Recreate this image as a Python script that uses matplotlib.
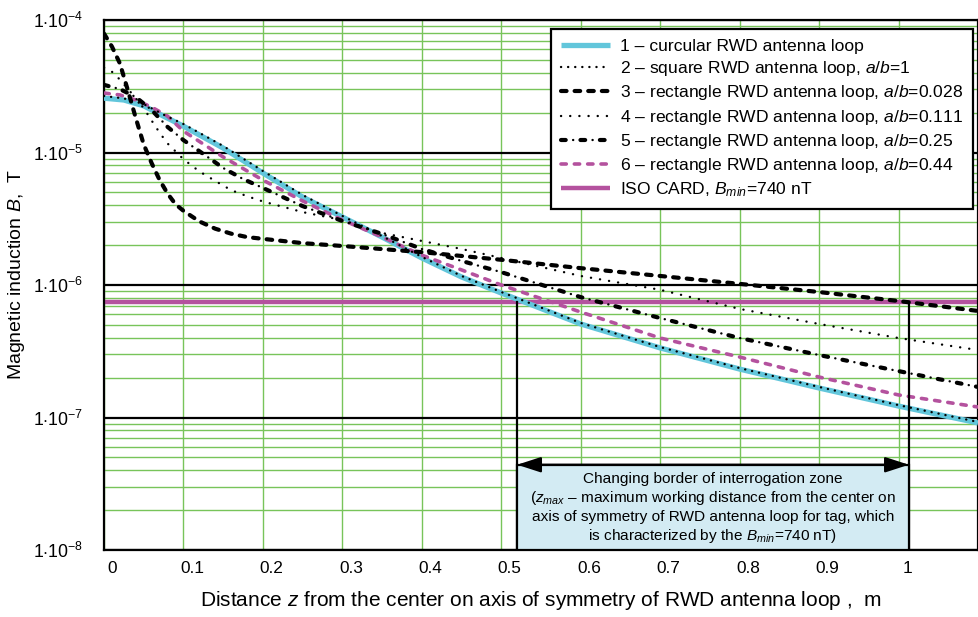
import numpy as np
import matplotlib
matplotlib.use('Agg')
import matplotlib.pyplot as plt
from matplotlib.transforms import ScaledTranslation
from matplotlib.ticker import FixedLocator, FixedFormatter, NullFormatter, LogLocator
from matplotlib.patches import Rectangle

plt.rcParams['font.family'] = ['Liberation Sans', 'DejaVu Sans']
plt.rcParams['mathtext.fontset'] = 'custom'
plt.rcParams['mathtext.rm'] = 'Liberation Sans'
plt.rcParams['mathtext.it'] = 'Liberation Sans:italic'
plt.rcParams['mathtext.bf'] = 'Liberation Sans:bold'
plt.rcParams['lines.scale_dashes'] = False

# ---------------- data ----------------
# 1 - circular loop
z1 = [0, 0.025, 0.05, 0.075, 0.1, 0.15, 0.2, 0.25, 0.3, 0.35, 0.4, 0.45, 0.5, 0.6, 0.7, 0.8, 0.9, 1.0, 1.1]
b1 = [2.57e-5, 2.49e-5, 2.25e-5, 1.88e-5, 1.58e-5, 1.08e-5, 7.0e-6, 4.61e-6, 3.26e-6, 2.30e-6,
      1.60e-6, 1.15e-6, 8.7e-7, 5.08e-7, 3.35e-7, 2.32e-7, 1.67e-7, 1.22e-7, 9.1e-8]
# 2 - square loop a/b=1
z2 = [0, 0.025, 0.05, 0.075, 0.1, 0.15, 0.2, 0.25, 0.3, 0.35, 0.4, 0.45, 0.5, 0.6, 0.7, 0.8, 0.9, 1.0, 1.1]
b2 = [2.67e-5, 2.56e-5, 2.32e-5, 1.93e-5, 1.64e-5, 1.12e-5, 7.25e-6, 4.78e-6, 3.32e-6, 2.34e-6,
      1.63e-6, 1.17e-6, 8.85e-7, 5.17e-7, 3.40e-7, 2.36e-7, 1.70e-7, 1.24e-7, 9.25e-8]
# 3 - rectangle a/b=0.028
z3 = [0, 0.01, 0.02, 0.03, 0.04, 0.05, 0.06, 0.07, 0.08, 0.09, 0.1, 0.12, 0.14, 0.16, 0.18, 0.2,
      0.25, 0.3, 0.4, 0.5, 0.6, 0.7, 0.8, 0.9, 1.0, 1.1]
b3 = [7.9e-5, 6.3e-5, 4.7e-5, 2.95e-5, 1.82e-5, 1.15e-5, 8.3e-6, 6.2e-6, 4.9e-6, 4.07e-6, 3.63e-6,
      3.02e-6, 2.66e-6, 2.44e-6, 2.30e-6, 2.23e-6, 2.07e-6, 1.97e-6, 1.77e-6, 1.55e-6, 1.34e-6,
      1.17e-6, 1.02e-6, 8.85e-7, 7.57e-7, 6.37e-7]
# 4 - rectangle a/b=0.111
z4 = [0, 0.01, 0.02, 0.03, 0.04, 0.05, 0.06, 0.07, 0.08, 0.09, 0.1, 0.12, 0.14, 0.16, 0.18, 0.2,
      0.25, 0.3, 0.35, 0.4, 0.45, 0.5, 0.6, 0.7, 0.8, 0.9, 1.0, 1.1]
b4 = [4.37e-5, 4.07e-5, 3.55e-5, 3.02e-5, 2.57e-5, 2.16e-5, 1.74e-5, 1.41e-5, 1.17e-5, 1.02e-5,
      8.9e-6, 7.2e-6, 6.1e-6, 5.2e-6, 4.68e-6, 4.27e-6, 3.55e-6, 3.09e-6, 2.47e-6, 2.15e-6,
      1.87e-6, 1.60e-6, 1.17e-6, 9.2e-7, 6.6e-7, 5.08e-7, 3.98e-7, 3.23e-7]
# 5 - rectangle a/b=0.25
z5 = [0, 0.02, 0.04, 0.06, 0.08, 0.1, 0.125, 0.15, 0.175, 0.2, 0.25, 0.3, 0.35, 0.4, 0.45, 0.5,
      0.6, 0.7, 0.8, 0.9, 1.0, 1.1]
b5 = [3.24e-5, 3.01e-5, 2.62e-5, 2.09e-5, 1.56e-5, 1.24e-5, 9.75e-6, 7.64e-6, 6.31e-6, 5.40e-6,
      3.94e-6, 3.04e-6, 2.43e-6, 1.87e-6, 1.52e-6, 1.25e-6, 8.1e-7, 5.63e-7, 3.98e-7, 2.96e-7,
      2.24e-7, 1.70e-7]
# 6 - rectangle a/b=0.44
z6 = [0, 0.02, 0.04, 0.06, 0.08, 0.1, 0.15, 0.2, 0.25, 0.3, 0.35, 0.4, 0.45, 0.5, 0.6, 0.7, 0.8,
      0.9, 1.0, 1.1]
b6 = [2.81e-5, 2.72e-5, 2.49e-5, 2.20e-5, 1.88e-5, 1.45e-5, 9.25e-6, 6.19e-6, 4.31e-6, 3.10e-6,
      2.30e-6, 1.68e-6, 1.30e-6, 1.0e-6, 6.25e-7, 3.98e-7, 2.86e-7, 2.02e-7, 1.48e-7, 1.20e-7]

b_min = 7.4e-7
z_max = [0.52, 1.013]
box_top = 4.4e-8

labels = ['1 – curcular RWD antenna loop',
          '2 – square RWD antenna loop, $a/b$=1',
          '3 – rectangle RWD antenna loop, $a/b$=0.028',
          '4 – rectangle RWD antenna loop, $a/b$=0.111',
          '5 – rectangle RWD antenna loop, $a/b$=0.25',
          '6 – rectangle RWD antenna loop, $a/b$=0.44',
          'ISO CARD, $B_{min}$=740 nT']

xtick_vals = [0, 0.1, 0.2, 0.3, 0.4, 0.5, 0.6, 0.7, 0.8, 0.9, 1.0]
xtick_labels = ['0', '0.1', '0.2', '0.3', '0.4', '0.5', '0.6', '0.7', '0.8', '0.9', '1']
ytick_vals = [1e-8, 1e-7, 1e-6, 1e-5, 1e-4]
ytick_labels = [r'$1{\cdot}10^{-8}$', r'$1{\cdot}10^{-7}$', r'$1{\cdot}10^{-6}$',
                r'$1{\cdot}10^{-5}$', r'$1{\cdot}10^{-4}$']

note = ("Changing border of interrogation zone\n"
        "($z_{max}$ – maximum working distance from the center on\n"
        "axis of symmetry of RWD antenna loop for tag, which\n"
        "is characterized by the $B_{min}$=740 nT)")

# ---------------- styling ----------------
CYAN = '#62c6db'
PURPLE = '#b4529e'
GREEN = '#78c45a'
BOXC = '#d3ebf3'

fig = plt.figure(figsize=(9.79, 6.17), dpi=100)
ax = fig.add_axes([104 / 979, 67 / 617, 874 / 979, 530 / 617])
ax.set_yscale('log')
ax.set_xlim(0, 1.1)
ax.set_ylim(1e-8, 1e-4)

ax.xaxis.set_major_locator(FixedLocator(xtick_vals))
ax.xaxis.set_major_formatter(FixedFormatter(xtick_labels))
ax.yaxis.set_major_locator(FixedLocator(ytick_vals))
ax.yaxis.set_major_formatter(FixedFormatter(ytick_labels))
ax.yaxis.set_minor_locator(LogLocator(base=10, subs=np.arange(2, 10)))
ax.yaxis.set_minor_formatter(NullFormatter())

ax.set_axisbelow(True)
ax.xaxis.grid(True, which='major', color=GREEN, lw=1.0)
ax.yaxis.grid(True, which='minor', color=GREEN, lw=1.0)
ax.yaxis.grid(True, which='major', color='black', lw=1.6)
ax.tick_params(axis='both', which='both', length=0)
ax.tick_params(axis='x', labelsize=12.4, pad=8)
ax.tick_params(axis='y', labelsize=12.8, pad=15)
for sp in ax.spines.values():
    sp.set_linewidth(1.6)
    sp.set_color('black')

off = ScaledTranslation(0.085, 0, fig.dpi_scale_trans)
for lab in ax.get_xticklabels():
    lab.set_transform(lab.get_transform() + off)

# ISO line
iso, = ax.plot([0, 1.1], [b_min, b_min], color=PURPLE, lw=3.2, solid_capstyle='butt', zorder=2.5)

l1, = ax.plot(z1, b1, color=CYAN, lw=3.8, solid_capstyle='butt', zorder=3)
l6, = ax.plot(z6, b6, color=PURPLE, lw=2.6, linestyle=(0, (3.8, 5.8)), dash_capstyle='round', zorder=3.2)
l5a, = ax.plot(z5, b5, color='black', lw=3.0, linestyle=(0, (3.4, 10.6)), dash_capstyle='round', zorder=3.3)
l5b, = ax.plot(z5, b5, color='black', lw=1.7, linestyle=(5.3, (0.1, 13.9)), dash_capstyle='round', zorder=3.3)
l3, = ax.plot(z3, b3, color='black', lw=3.0, linestyle=(0, (4.0, 5.8)), dash_capstyle='round', zorder=3.4)
l4, = ax.plot(z4, b4, color='black', lw=1.7, linestyle=(0, (0.1, 6.5)), dash_capstyle='round', zorder=3.5)
l2, = ax.plot(z2, b2, color='black', lw=1.7, linestyle=(0, (0.1, 5.0)), dash_capstyle='round', zorder=3.6)

# vertical border lines
for zm in z_max:
    ax.plot([zm, zm], [1e-8, b_min], color='black', lw=1.6, zorder=4)

# annotation box
rect = Rectangle((z_max[0], 1e-8), z_max[1] - z_max[0], box_top - 1e-8,
                 facecolor=BOXC, edgecolor='black', lw=1.6, zorder=5)
ax.add_patch(rect)
ax.annotate('', xy=(z_max[0], box_top), xytext=(z_max[1], box_top),
            arrowprops=dict(arrowstyle='<|-|>,head_length=1.45,head_width=0.47',
                            mutation_scale=10, color='black', lw=1.6,
                            shrinkA=0, shrinkB=0), zorder=6)
ax.text((z_max[0] + z_max[1]) / 2, 0.079, note, transform=ax.get_xaxis_transform(),
        ha='center', va='center', fontsize=11.1, linespacing=1.25, zorder=7)

leg = ax.legend([l1, l2, l3, l4, (l5a, l5b), l6, iso], labels,
                loc='upper right', bbox_to_anchor=(0.9943, 0.983), borderaxespad=0,
                fontsize=12.6, frameon=True, fancybox=False, framealpha=1,
                edgecolor='black', handlelength=2.8, handletextpad=0.6,
                labelspacing=0.3, borderpad=0.55)
leg.get_frame().set_linewidth(1.6)
leg.set_zorder(10)

fig.text(17 / 979, 1 - 275 / 617, 'Magnetic induction $B$,  T', rotation=90,
         ha='center', va='center', fontsize=14)
fig.text(541 / 979, 1 - 600 / 617,
         'Distance $z$ from the center on axis of symmetry of RWD antenna loop ,  m',
         ha='center', va='center', fontsize=15)

fig.savefig('out.png', dpi=100)
